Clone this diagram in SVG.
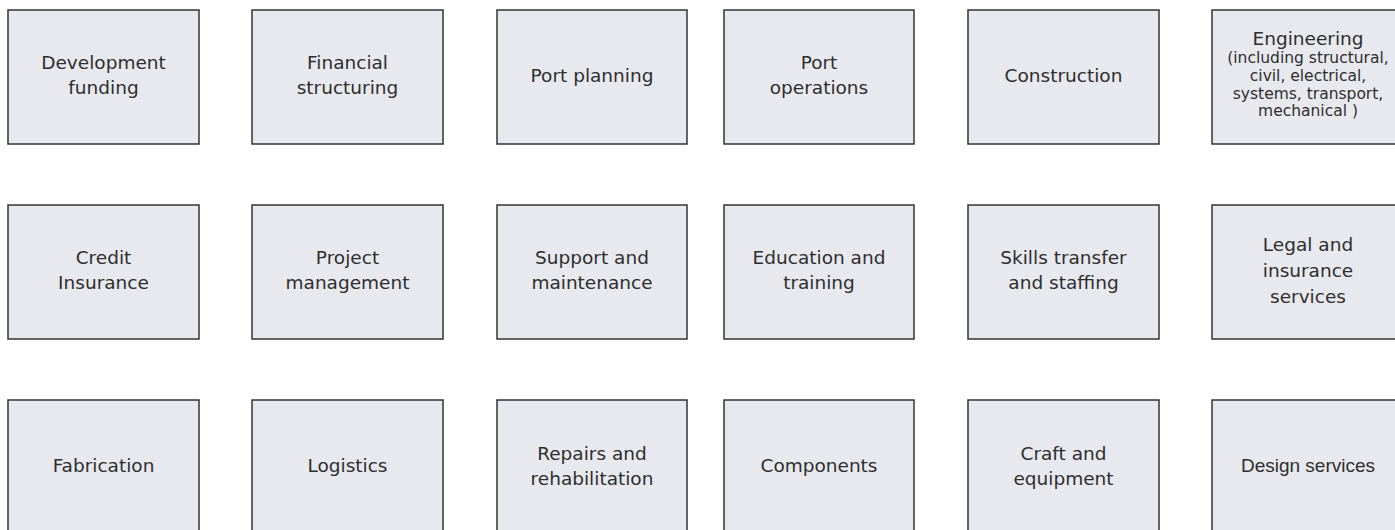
<svg xmlns="http://www.w3.org/2000/svg" width="1395" height="530" viewBox="0 0 1395 530">
<style>
.box{fill:#e7e9ee;stroke:#333;stroke-width:1.5}
text{font-family:"DejaVu Sans",sans-serif;font-size:18.5px;fill:#2e2e2e;text-anchor:middle}
.sm{font-size:15.5px}
.gs{font-family:"Liberation Sans",sans-serif;font-size:19px}
</style>
<rect width="1395" height="530" fill="#fff"/>
<g id="connectors"/>
<g id="n-development-funding"><rect class="box" x="8" y="10" width="191" height="134"/><text x="103.5" y="69">Development</text><text x="103.5" y="94">funding</text></g>
<g id="n-financial-structuring"><rect class="box" x="252" y="10" width="191" height="134"/><text x="347.5" y="69">Financial</text><text x="347.5" y="94">structuring</text></g>
<g id="n-port-planning"><rect class="box" x="497" y="10" width="190" height="134"/><text x="592" y="82">Port planning</text></g>
<g id="n-port-operations"><rect class="box" x="724" y="10" width="190" height="134"/><text x="819" y="69">Port</text><text x="819" y="94">operations</text></g>
<g id="n-construction"><rect class="box" x="968" y="10" width="191" height="134"/><text x="1063.5" y="82">Construction</text></g>
<g id="n-engineering"><rect class="box" x="1212" y="10" width="192" height="134"/><text x="1308" y="45">Engineering</text><text class="sm" x="1308" y="63">(including structural,</text><text class="sm" x="1308" y="81">civil, electrical,</text><text class="sm" x="1308" y="99">systems, transport,</text><text class="sm" x="1308" y="116">mechanical )</text></g>

<g id="n-credit-insurance"><rect class="box" x="8" y="205" width="191" height="134"/><text x="103.5" y="264">Credit</text><text x="103.5" y="289">Insurance</text></g>
<g id="n-project-management"><rect class="box" x="252" y="205" width="191" height="134"/><text x="347.5" y="264">Project</text><text x="347.5" y="289">management</text></g>
<g id="n-support-maintenance"><rect class="box" x="497" y="205" width="190" height="134"/><text x="592" y="264">Support and</text><text x="592" y="289">maintenance</text></g>
<g id="n-education-training"><rect class="box" x="724" y="205" width="190" height="134"/><text x="819" y="264">Education and</text><text x="819" y="289">training</text></g>
<g id="n-skills-transfer"><rect class="box" x="968" y="205" width="191" height="134"/><text x="1063.5" y="264">Skills transfer</text><text x="1063.5" y="289">and staffing</text></g>
<g id="n-legal-insurance"><rect class="box" x="1212" y="205" width="192" height="134"/><text x="1308" y="250.5">Legal and</text><text x="1308" y="276.5">insurance</text><text x="1308" y="302.5">services</text></g>

<g id="n-fabrication"><rect class="box" x="8" y="400" width="191" height="134"/><text x="103.5" y="472">Fabrication</text></g>
<g id="n-logistics"><rect class="box" x="252" y="400" width="191" height="134"/><text x="347.5" y="472">Logistics</text></g>
<g id="n-repairs"><rect class="box" x="497" y="400" width="190" height="134"/><text x="592" y="460">Repairs and</text><text x="592" y="485">rehabilitation</text></g>
<g id="n-components"><rect class="box" x="724" y="400" width="190" height="134"/><text x="819" y="472">Components</text></g>
<g id="n-craft-equipment"><rect class="box" x="968" y="400" width="191" height="134"/><text x="1063.5" y="460">Craft and</text><text x="1063.5" y="485">equipment</text></g>
<g id="n-design-services"><rect class="box" x="1212" y="400" width="192" height="134"/><text class="gs" x="1308" y="472">Design services</text></g>
</svg>
